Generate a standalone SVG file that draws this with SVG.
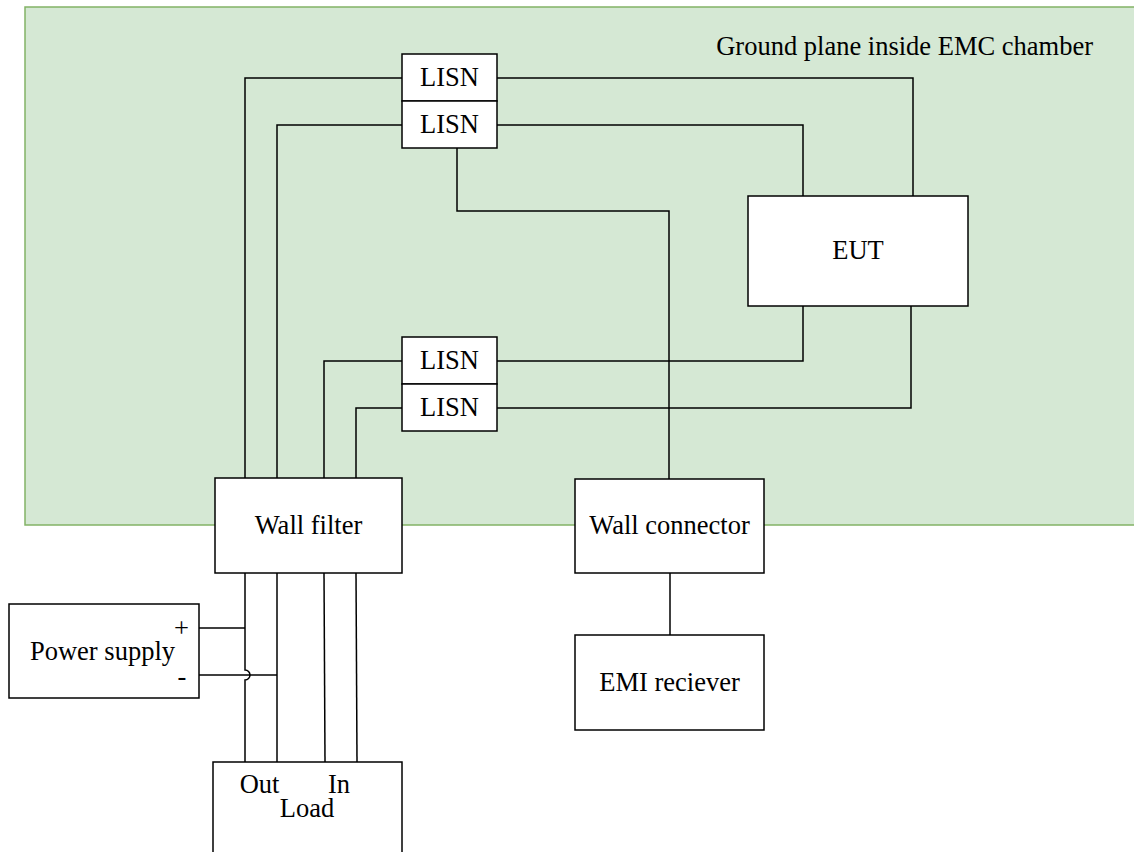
<svg xmlns="http://www.w3.org/2000/svg" width="1134" height="852" viewBox="0 0 1134 852">
<style>
.box{fill:#fff;stroke:#000;stroke-width:1.5}
.w{fill:none;stroke:#000;stroke-width:1.5}
text{font-family:"Liberation Serif","Times New Roman",serif;font-size:26.5px;fill:#000}
.c{text-anchor:middle}
</style>
<rect id="ground" x="25" y="7" width="1120" height="518" fill="#d5e8d4" stroke="#82b366" stroke-width="1.5"/>
<text x="1093" y="55" text-anchor="end">Ground plane inside EMC chamber</text>
<g id="connectors">
<polyline class="w" points="402,78 245,78 245,478"/>
<polyline class="w" points="402,125 277,125 277,478"/>
<polyline class="w" points="402,361 324,361 324,478"/>
<polyline class="w" points="402,408 356,408 356,478"/>
<polyline class="w" points="497,78 913,78 913,196"/>
<polyline class="w" points="497,125 803,125 803,196"/>
<polyline class="w" points="497,361 803,361 803,306"/>
<polyline class="w" points="497,408 911,408 911,306"/>
<polyline class="w" points="457,148 457,211 669,211 669,479"/>
<line class="w" x1="670" y1="573" x2="670" y2="635"/>
<path class="w" d="M245,573 V670 A5,5 0 0 1 245,680 V762"/>
<line class="w" x1="277" y1="573" x2="277" y2="762"/>
<line class="w" x1="324" y1="573" x2="325" y2="762"/>
<line class="w" x1="356" y1="573" x2="357" y2="762"/>
<line class="w" x1="199" y1="628" x2="245" y2="628"/>
<line class="w" x1="199" y1="675" x2="277" y2="675"/>
</g>
<g id="lisn1"><rect class="box" x="402" y="54" width="95" height="47"/><text class="c" x="449.5" y="86">LISN</text></g>
<g id="lisn2"><rect class="box" x="402" y="101" width="95" height="47"/><text class="c" x="449.5" y="133">LISN</text></g>
<g id="lisn3"><rect class="box" x="402" y="337" width="95" height="47"/><text class="c" x="449.5" y="369">LISN</text></g>
<g id="lisn4"><rect class="box" x="402" y="384" width="95" height="47"/><text class="c" x="449.5" y="416">LISN</text></g>
<g id="eut"><rect class="box" x="748" y="196" width="220" height="110"/><text class="c" x="858" y="259">EUT</text></g>
<g id="wallfilter"><rect class="box" x="215" y="478" width="187" height="95"/><text class="c" x="308.5" y="534">Wall filter</text></g>
<g id="wallconnector"><rect class="box" x="575" y="479" width="189" height="94"/><text class="c" x="669.5" y="534">Wall connector</text></g>
<g id="emireceiver"><rect class="box" x="575" y="635" width="189" height="95"/><text class="c" x="669.5" y="691">EMI reciever</text></g>
<g id="powersupply"><rect class="box" x="9" y="604" width="190" height="94"/><text class="c" x="102.5" y="660">Power supply</text><text class="c" x="181.5" y="637">+</text><text class="c" x="182" y="685">-</text></g>
<g id="load"><rect class="box" x="213" y="762" width="189" height="100"/><text class="c" x="259.5" y="793">Out</text><text class="c" x="339" y="793">In</text><text class="c" x="307" y="817">Load</text></g>
</svg>
